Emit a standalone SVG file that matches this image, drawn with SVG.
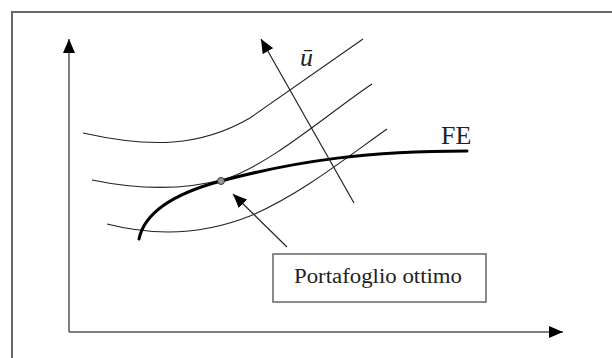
<svg xmlns="http://www.w3.org/2000/svg" width="612" height="358" viewBox="0 0 612 358">
<style>
.frame{fill:none;stroke:#666;stroke-width:2}
.axis{fill:none;stroke:#555;stroke-width:1.5}
.curve{fill:none;stroke:#222;stroke-width:1.1}
.fe{fill:none;stroke:#000;stroke-width:3;stroke-linecap:round}
.thin{fill:none;stroke:#222;stroke-width:1.2}
.box{fill:#fff;stroke:#666;stroke-width:1.5}
.lbl{font-family:"Liberation Serif","Times New Roman",serif;fill:#222}
</style>
<defs>
<marker id="ah" viewBox="0 0 14 12" refX="14" refY="6" markerWidth="14" markerHeight="12" markerUnits="userSpaceOnUse" orient="auto">
<path d="M0,0 L14,6 L0,12 z" fill="#000"/>
</marker>
</defs>
<rect class="frame" x="12" y="12" width="640" height="400"/>
<g id="axes">
<path class="axis" d="M69,332 L69,39" marker-end="url(#ah)"/>
<path class="axis" d="M69,332 L563,332" marker-end="url(#ah)"/>
</g>
<g id="indifference-curves">
<path class="curve" d="M83,133 C150,148 200,147 250,118 L363,39"/>
<path class="curve" d="M92,180 C140,190 185,190 225,179 C270,165 330,112 372,84"/>
<path class="curve" d="M107,224 C150,235 200,236 250,216 C300,195 350,155 387,129"/>
</g>
<g id="fe">
<path class="fe" d="M139,239 C145,210 180,192 221,181 C300,160 370,151 467,151"/>
<text class="lbl" x="441" y="144" font-size="26">FE</text>
</g>
<g id="connectors">
<path class="thin" d="M354,203 L261,39" marker-end="url(#ah)"/>
<path class="thin" d="M287,247 L233,194" marker-end="url(#ah)"/>
</g>
<g id="u-label">
<text class="lbl" x="300" y="66" font-size="26" font-style="italic">ū</text>
</g>
<g id="optimum">
<circle cx="221" cy="181" r="3.5" fill="#999" stroke="#333" stroke-width="1"/>
</g>
<g id="portafoglio">
<rect class="box" x="273" y="254" width="213" height="48"/>
<text class="lbl" x="294" y="283" font-size="20" textLength="168" lengthAdjust="spacingAndGlyphs">Portafoglio ottimo</text>
</g>
</svg>
